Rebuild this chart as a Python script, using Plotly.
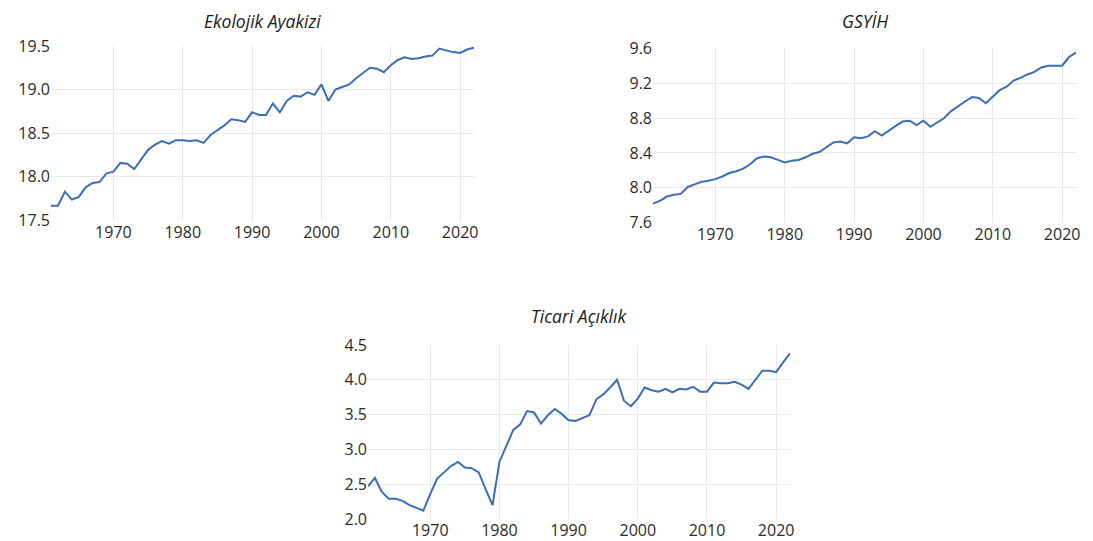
import plotly.graph_objects as go

years = list(range(1961, 2023))

ekolojik_ayakizi = [
    17.67, 17.67, 17.83, 17.74, 17.77, 17.88, 17.93, 17.94, 18.04, 18.06,
    18.16, 18.15, 18.09, 18.20, 18.31, 18.37, 18.41, 18.38, 18.42, 18.42,
    18.41, 18.42, 18.39, 18.48, 18.53, 18.59, 18.66, 18.65, 18.63, 18.74,
    18.71, 18.71, 18.84, 18.74, 18.87, 18.93, 18.92, 18.97, 18.94, 19.06,
    18.87, 19.00, 19.03, 19.06, 19.13, 19.19, 19.25, 19.24, 19.20, 19.28,
    19.34, 19.37, 19.35, 19.36, 19.38, 19.39, 19.47, 19.45, 19.43, 19.42,
    19.46, 19.48,
]

gsyih = [
    7.82, 7.85, 7.90, 7.92, 7.93, 8.01, 8.04, 8.07, 8.08, 8.10,
    8.13, 8.17, 8.19, 8.22, 8.27, 8.34, 8.36, 8.35, 8.32, 8.29,
    8.31, 8.32, 8.35, 8.39, 8.41, 8.46, 8.52, 8.53, 8.51, 8.58,
    8.57, 8.59, 8.65, 8.60, 8.66, 8.71, 8.76, 8.77, 8.72, 8.77,
    8.70, 8.75, 8.80, 8.88, 8.94, 8.99, 9.04, 9.03, 8.97, 9.04,
    9.12, 9.16, 9.23, 9.26, 9.30, 9.33, 9.38, 9.40, 9.40, 9.40,
    9.50, 9.55,
]

ticari_aciklik = [
    2.47, 2.59, 2.39, 2.29, 2.29, 2.26, 2.20, 2.16, 2.12, 2.36,
    2.58, 2.67, 2.76, 2.82, 2.74, 2.73, 2.67, 2.43, 2.20, 2.82,
    3.04, 3.28, 3.36, 3.55, 3.53, 3.37, 3.49, 3.58, 3.51, 3.42,
    3.41, 3.45, 3.49, 3.72, 3.79, 3.89, 4.00, 3.70, 3.62, 3.73,
    3.89, 3.85, 3.83, 3.87, 3.82, 3.87, 3.86, 3.90, 3.83, 3.83,
    3.96, 3.95, 3.95, 3.97, 3.93, 3.87, 4.00, 4.13, 4.13, 4.11,
    4.25, 4.38,
]

titles = ["Ekolojik Ayakizi", "GSYİH", "Ticari Açıklık"]
x_ticks = [1970, 1980, 1990, 2000, 2010, 2020]
y_ticks_1 = [17.5, 18.0, 18.5, 19.0, 19.5]
y_ticks_2 = [7.6, 8.0, 8.4, 8.8, 9.2, 9.6]
y_ticks_3 = [2.0, 2.5, 3.0, 3.5, 4.0, 4.5]

W, H = 1093, 541
OFF = 8  # the page body margin shifts the figure by 8 px
LINE = "#3d6cb8"
GRID = "#e8e8e8"
FONT = "Open Sans"
TICK_FONT = {"size": 16, "color": "#2b2b2b", "family": FONT}


def px_x(a, b):
    return [(a - OFF) / W, (b - OFF) / W]


def px_y(top, bottom):
    return [1 - (bottom - OFF) / H, 1 - (top - OFF) / H]


# pixel boxes of the three plot areas: (left, right, top, bottom) and title top y
boxes = [(51, 474, 46, 220.5), (653, 1076, 48.3, 222.7), (368, 790, 345, 519)]
title_top = [8, 8, 303]
series = [ekolojik_ayakizi, gsyih, ticari_aciklik]
yticks = [y_ticks_1, y_ticks_2, y_ticks_3]

fig = go.Figure()
layout = {}
for i, (box, tt, vals, yt, title) in enumerate(zip(boxes, title_top, series, yticks, titles), start=1):
    sfx = "" if i == 1 else str(i)
    fig.add_trace(
        go.Scatter(
            x=years, y=vals, mode="lines",
            line={"color": LINE, "width": 2},
            xaxis="x" + sfx, yaxis="y" + sfx, showlegend=False,
        )
    )
    left, right, top, bottom = box
    layout["xaxis" + sfx] = {
        "domain": px_x(left, right), "anchor": "y" + sfx,
        "range": [1961, 2022], "tickvals": x_ticks,
        "showgrid": True, "gridcolor": GRID, "gridwidth": 1,
        "zeroline": False, "showline": False, "ticks": "",
        "automargin": False, "tickfont": TICK_FONT,
    }
    layout["yaxis" + sfx] = {
        "domain": px_y(top, bottom), "anchor": "x" + sfx,
        "range": [yt[0], yt[-1]], "tickvals": yt,
        "ticktext": [f"{v:.1f}" for v in yt],
        "showgrid": True, "gridcolor": GRID, "gridwidth": 1,
        "zeroline": False, "showline": False, "ticks": "",
        "automargin": False, "tickfont": TICK_FONT,
    }
    fig.add_annotation(
        text=f"<i>{title}</i>", x=((left + right) / 2 - OFF) / W, y=1 - (tt - OFF) / H,
        xref="paper", yref="paper", xanchor="center", yanchor="top",
        borderpad=0, showarrow=False,
        font={"size": 17.5, "color": "#1a1a1a", "family": FONT},
    )

fig.update_layout(
    width=W, height=H,
    margin={"l": 0, "r": 0, "t": 0, "b": 0, "pad": 0, "autoexpand": False},
    paper_bgcolor="white", plot_bgcolor="white",
    **layout,
)

fig.write_html("out.html")
